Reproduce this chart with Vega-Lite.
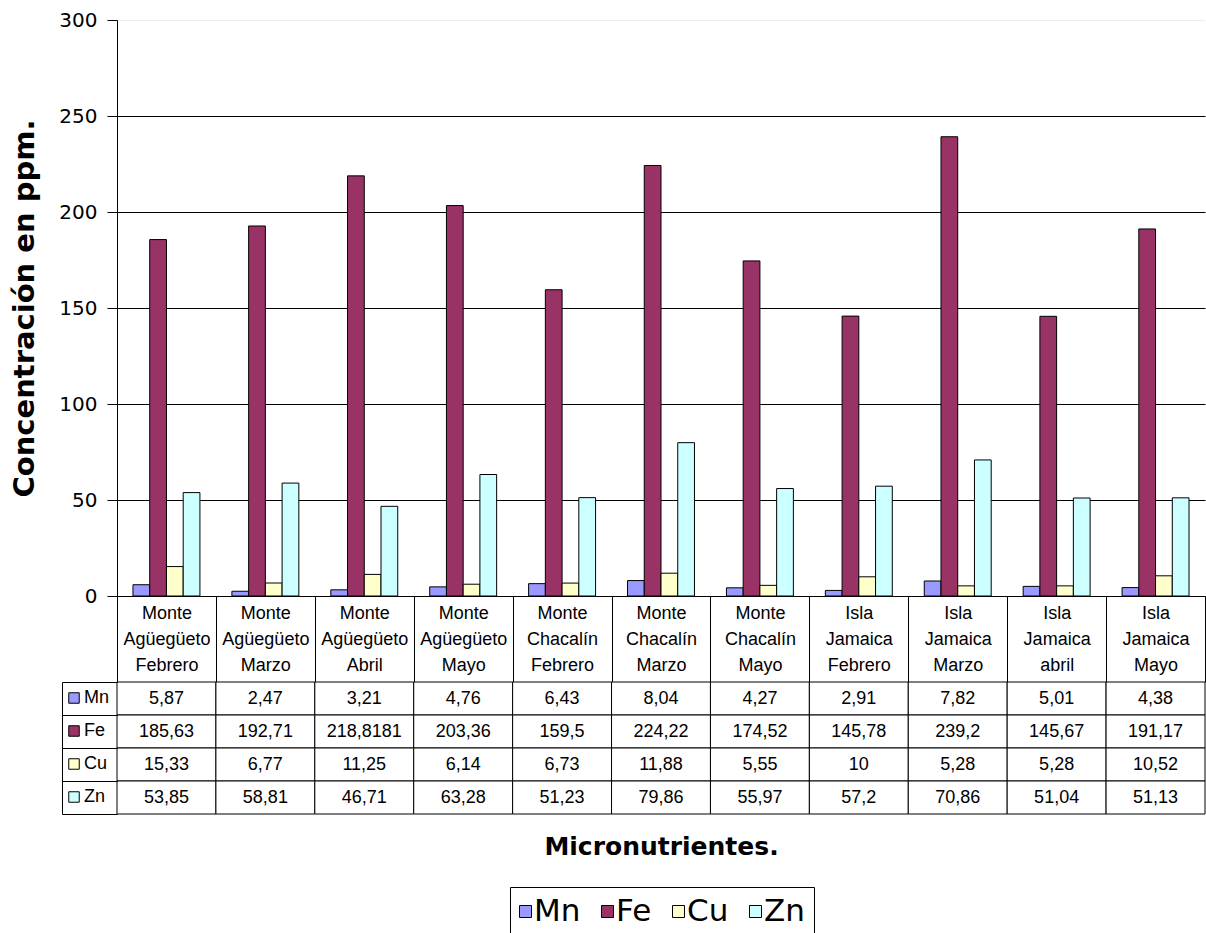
{
  "$schema": "https://vega.github.io/schema/vega-lite/v6.json",
  "background": "white",
  "padding": {"left": 10, "top": 10, "right": 0, "bottom": 0},
  "config": {
    "font": "Liberation Sans",
    "view": {"stroke": null},
    "locale": {"number": {"decimal": ",", "thousands": ".", "grouping": [3], "currency": ["", ""]}}
  },
  "data": {
    "values": [
      {"sitio": "Monte Agüegüeto Febrero", "mineral": "Mn", "ppm": 5.87},
      {"sitio": "Monte Agüegüeto Febrero", "mineral": "Fe", "ppm": 185.63},
      {"sitio": "Monte Agüegüeto Febrero", "mineral": "Cu", "ppm": 15.33},
      {"sitio": "Monte Agüegüeto Febrero", "mineral": "Zn", "ppm": 53.85},
      {"sitio": "Monte Agüegüeto Marzo", "mineral": "Mn", "ppm": 2.47},
      {"sitio": "Monte Agüegüeto Marzo", "mineral": "Fe", "ppm": 192.71},
      {"sitio": "Monte Agüegüeto Marzo", "mineral": "Cu", "ppm": 6.77},
      {"sitio": "Monte Agüegüeto Marzo", "mineral": "Zn", "ppm": 58.81},
      {"sitio": "Monte Agüegüeto Abril", "mineral": "Mn", "ppm": 3.21},
      {"sitio": "Monte Agüegüeto Abril", "mineral": "Fe", "ppm": 218.8181},
      {"sitio": "Monte Agüegüeto Abril", "mineral": "Cu", "ppm": 11.25},
      {"sitio": "Monte Agüegüeto Abril", "mineral": "Zn", "ppm": 46.71},
      {"sitio": "Monte Agüegüeto Mayo", "mineral": "Mn", "ppm": 4.76},
      {"sitio": "Monte Agüegüeto Mayo", "mineral": "Fe", "ppm": 203.36},
      {"sitio": "Monte Agüegüeto Mayo", "mineral": "Cu", "ppm": 6.14},
      {"sitio": "Monte Agüegüeto Mayo", "mineral": "Zn", "ppm": 63.28},
      {"sitio": "Monte Chacalín Febrero", "mineral": "Mn", "ppm": 6.43},
      {"sitio": "Monte Chacalín Febrero", "mineral": "Fe", "ppm": 159.5},
      {"sitio": "Monte Chacalín Febrero", "mineral": "Cu", "ppm": 6.73},
      {"sitio": "Monte Chacalín Febrero", "mineral": "Zn", "ppm": 51.23},
      {"sitio": "Monte Chacalín Marzo", "mineral": "Mn", "ppm": 8.04},
      {"sitio": "Monte Chacalín Marzo", "mineral": "Fe", "ppm": 224.22},
      {"sitio": "Monte Chacalín Marzo", "mineral": "Cu", "ppm": 11.88},
      {"sitio": "Monte Chacalín Marzo", "mineral": "Zn", "ppm": 79.86},
      {"sitio": "Monte Chacalín Mayo", "mineral": "Mn", "ppm": 4.27},
      {"sitio": "Monte Chacalín Mayo", "mineral": "Fe", "ppm": 174.52},
      {"sitio": "Monte Chacalín Mayo", "mineral": "Cu", "ppm": 5.55},
      {"sitio": "Monte Chacalín Mayo", "mineral": "Zn", "ppm": 55.97},
      {"sitio": "Isla Jamaica Febrero", "mineral": "Mn", "ppm": 2.91},
      {"sitio": "Isla Jamaica Febrero", "mineral": "Fe", "ppm": 145.78},
      {"sitio": "Isla Jamaica Febrero", "mineral": "Cu", "ppm": 10},
      {"sitio": "Isla Jamaica Febrero", "mineral": "Zn", "ppm": 57.2},
      {"sitio": "Isla Jamaica Marzo", "mineral": "Mn", "ppm": 7.82},
      {"sitio": "Isla Jamaica Marzo", "mineral": "Fe", "ppm": 239.2},
      {"sitio": "Isla Jamaica Marzo", "mineral": "Cu", "ppm": 5.28},
      {"sitio": "Isla Jamaica Marzo", "mineral": "Zn", "ppm": 70.86},
      {"sitio": "Isla Jamaica abril", "mineral": "Mn", "ppm": 5.01},
      {"sitio": "Isla Jamaica abril", "mineral": "Fe", "ppm": 145.67},
      {"sitio": "Isla Jamaica abril", "mineral": "Cu", "ppm": 5.28},
      {"sitio": "Isla Jamaica abril", "mineral": "Zn", "ppm": 51.04},
      {"sitio": "Isla Jamaica Mayo", "mineral": "Mn", "ppm": 4.38},
      {"sitio": "Isla Jamaica Mayo", "mineral": "Fe", "ppm": 191.17},
      {"sitio": "Isla Jamaica Mayo", "mineral": "Cu", "ppm": 10.52},
      {"sitio": "Isla Jamaica Mayo", "mineral": "Zn", "ppm": 51.13}
    ]
  },
  "spacing": 86,
  "bounds": "flush",
  "resolve": {"scale": {"color": "independent"}, "legend": {"color": "independent"}},
  "vconcat": [
    {
      "width": 1088,
      "height": 576,
      "mark": {"type": "bar", "stroke": "black", "strokeWidth": 1},
      "encoding": {
        "x": {
          "field": "sitio", "type": "nominal", "sort": null,
          "scale": {"paddingInner": 0, "paddingOuter": 0},
          "axis": {
            "title": null, "orient": "bottom", "labelAngle": 0,
            "labelExpr": "split(datum.label, ' ')",
            "labelFontSize": 18, "labelLineHeight": 26, "labelBaseline": "top",
            "labelPadding": -78, "labelColor": "black", "labelOverlap": false, "labelLimit": 0,
            "tickBand": "extent", "tickSize": 86, "tickColor": "black", "tickWidth": 1,
            "domainColor": "black", "domainWidth": 1
          }
        },
        "xOffset": {
          "field": "mineral", "type": "nominal", "sort": ["Mn", "Fe", "Cu", "Zn"],
          "scale": {"paddingInner": 0, "paddingOuter": 0.955}
        },
        "y": {
          "field": "ppm", "type": "quantitative",
          "scale": {"domain": [0, 300], "nice": false},
          "axis": {
            "title": "Concentración en ppm.", "titleFont": "DejaVu Sans", "titleFontSize": 29,
            "titleFontWeight": "bold", "titleColor": "black", "titlePadding": 19,
            "values": [0, 50, 100, 150, 200, 250, 300],
            "labelFont": "DejaVu Sans", "labelFontSize": 20, "labelColor": "black", "labelPadding": 10,
            "tickSize": 10, "tickColor": "black", "domainColor": "black",
            "grid": true, "gridWidth": 1,
            "gridColor": {"condition": {"test": "datum.value >= 300", "value": "#ececec"}, "value": "black"}
          }
        },
        "color": {
          "field": "mineral", "type": "nominal", "sort": ["Mn", "Fe", "Cu", "Zn"],
          "scale": {"domain": ["Mn", "Fe", "Cu", "Zn"], "range": ["#9999FF", "#993366", "#FFFFCC", "#CCFFFF"]},
          "legend": {
            "orient": "none", "legendX": 393, "legendY": 867, "direction": "horizontal",
            "title": null, "strokeColor": "black", "padding": 9, "gridAlign": "none",
            "symbolType": "square", "symbolSize": 144, "symbolStrokeColor": "black", "symbolStrokeWidth": 1,
            "symbolOffset": -9,
            "labelFont": "DejaVu Sans", "labelFontSize": 31, "labelColor": "black", "labelOffset": -7,
            "columnPadding": 18
          }
        }
      }
    },
    {
      "width": 1088,
      "height": 132,
      "encoding": {
        "x": {
          "field": "sitio", "type": "nominal", "sort": null,
          "scale": {"paddingInner": 0, "paddingOuter": 0},
          "axis": {
            "labels": false, "ticks": false, "domain": false,
            "title": "Micronutrientes.", "titleFont": "DejaVu Sans", "titleFontSize": 25,
            "titleFontWeight": "bold", "titleColor": "black", "titlePadding": 20
          }
        },
        "y": {
          "field": "mineral", "type": "nominal", "sort": ["Mn", "Fe", "Cu", "Zn"],
          "scale": {"paddingInner": 0, "paddingOuter": 0},
          "axis": {
            "title": null, "labels": false, "offset": 55, "tickSize": -55,
            "tickBand": "extent", "tickColor": "black", "domainColor": "black", "grid": false
          }
        }
      },
      "layer": [
        {"mark": {"type": "rect", "fill": "white", "stroke": "black", "strokeWidth": 1}},
        {
          "mark": {"type": "text", "fontSize": 18, "color": "black"},
          "encoding": {"text": {"field": "ppm", "type": "quantitative", "format": ".10~r"}}
        },
        {
          "mark": {"type": "rect", "opacity": 0, "stroke": "black"},
          "encoding": {
            "color": {
              "field": "mineral", "type": "nominal", "sort": ["Mn", "Fe", "Cu", "Zn"],
              "scale": {"domain": ["Mn", "Fe", "Cu", "Zn"], "range": ["#9999FF", "#993366", "#FFFFCC", "#CCFFFF"]},
              "legend": {
                "orient": "none", "legendX": -52, "legendY": 7, "direction": "vertical",
                "title": null, "padding": 0,
                "symbolType": "square", "symbolSize": 110, "symbolStrokeColor": "black", "symbolStrokeWidth": 1,
                "labelFontSize": 18, "labelColor": "black", "labelOffset": 1, "rowPadding": 15
              }
            }
          }
        }
      ]
    }
  ]
}
